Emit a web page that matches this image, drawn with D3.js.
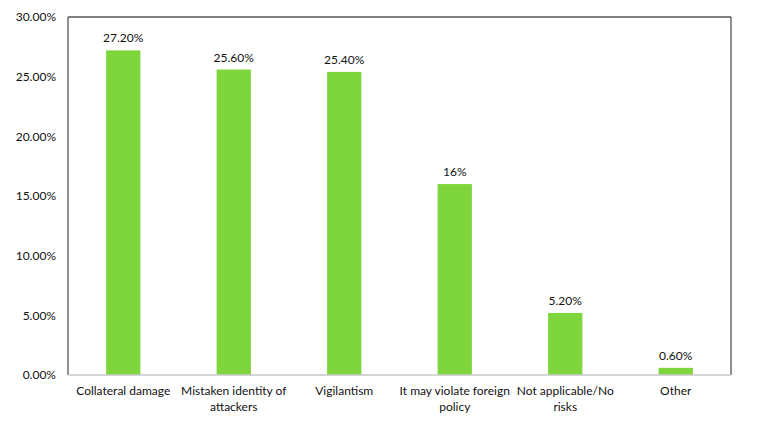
<!DOCTYPE html>
<html>
<head>
<meta charset="utf-8">
<script src="https://cdn.jsdelivr.net/npm/d3@7"></script>
<style>
  body { margin: 0; background: #fff; }
  text { font-family: Lato, "Open Sans", sans-serif; fill: #111; }
</style>
</head>
<body>
<div id="chart"></div>
<script>
const categories = ["Collateral damage", "Mistaken identity of attackers", "Vigilantism",
  "It may violate foreign policy", "Not applicable/No risks", "Other"];
const values = [27.2, 25.6, 25.4, 16, 5.2, 0.6];
const valueLabels = ["27.20%", "25.60%", "25.40%", "16%", "5.20%", "0.60%"];
const yTicks = [0, 5, 10, 15, 20, 25, 30];

// lines for wrapped category labels
const wrapped = {
  "Mistaken identity of attackers": ["Mistaken identity of", "attackers"],
  "It may violate foreign policy": ["It may violate foreign", "policy"],
  "Not applicable/No risks": ["Not applicable/No", "risks"]
};

const width = 770, height = 435;
const margin = { top: 17, right: 39, bottom: 60, left: 68 };

const svg = d3.select("#chart").append("svg")
  .attr("width", width)
  .attr("height", height);

const x = d3.scaleBand()
  .domain(categories)
  .range([margin.left, width - margin.right])
  .paddingInner(0.69)
  .paddingOuter(0.345);

const y = d3.scaleLinear()
  .domain([0, 30])
  .range([height - margin.bottom, margin.top]);

// frame: top, right and left dark, bottom light
svg.append("line")
  .attr("x1", margin.left).attr("x2", width - margin.right)
  .attr("y1", y(30)).attr("y2", y(30))
  .attr("stroke", "#555").attr("stroke-width", 1.3);
svg.append("line")
  .attr("x1", width - margin.right).attr("x2", width - margin.right)
  .attr("y1", y(30)).attr("y2", y(0))
  .attr("stroke", "#555").attr("stroke-width", 1.3);
svg.append("line")
  .attr("x1", margin.left).attr("x2", margin.left)
  .attr("y1", y(30)).attr("y2", y(0))
  .attr("stroke", "#555").attr("stroke-width", 1.3);

// y axis labels
svg.selectAll(".ytick")
  .data(yTicks)
  .enter()
  .append("text")
  .attr("class", "ytick")
  .attr("x", margin.left - 12)
  .attr("y", d => y(d))
  .attr("dy", "0.35em")
  .attr("text-anchor", "end")
  .style("font-size", "12px")
  .text(d => d.toFixed(2) + "%");

// bars
svg.selectAll("rect")
  .data(values)
  .enter()
  .append("rect")
  .attr("x", (d, i) => x(categories[i]))
  .attr("y", d => y(d))
  .attr("width", x.bandwidth())
  .attr("height", d => y(0) - y(d))
  .attr("fill", "#7ed63c");

// bottom axis line
svg.append("line")
  .attr("x1", margin.left).attr("x2", width - margin.right)
  .attr("y1", y(0)).attr("y2", y(0))
  .attr("stroke", "#c8c8c8").attr("stroke-width", 1.3);

// value labels
svg.selectAll(".vlabel")
  .data(values)
  .enter()
  .append("text")
  .attr("class", "vlabel")
  .attr("x", (d, i) => x(categories[i]) + x.bandwidth() / 2)
  .attr("y", d => y(d) - 8)
  .attr("text-anchor", "middle")
  .style("font-size", "12px")
  .text((d, i) => valueLabels[i]);

// category labels
const cat = svg.selectAll(".cat")
  .data(categories)
  .enter()
  .append("text")
  .attr("class", "cat")
  .attr("text-anchor", "middle")
  .style("font-size", "12px")
  .attr("transform", d => `translate(${x(d) + x.bandwidth() / 2},${y(0) + 20})`);

cat.selectAll("tspan")
  .data(d => wrapped[d] || [d])
  .enter()
  .append("tspan")
  .attr("x", 0)
  .attr("dy", (d, i) => i === 0 ? 0 : 16)
  .text(d => d);
</script>
</body>
</html>
